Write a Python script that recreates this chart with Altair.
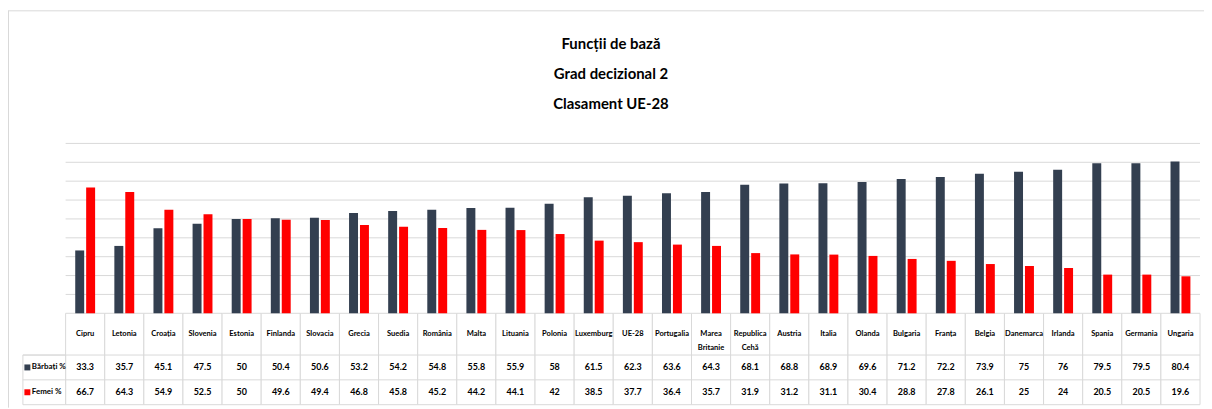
import altair as alt
import pandas as pd

countries = ["Cipru", "Letonia", "Croația", "Slovenia", "Estonia", "Finlanda", "Slovacia",
             "Grecia", "Suedia", "România", "Malta", "Lituania", "Polonia", "Luxemburg",
             "UE-28", "Portugalia", "Marea Britanie", "Republica Cehă", "Austria", "Italia",
             "Olanda", "Bulgaria", "Franța", "Belgia", "Danemarca", "Irlanda", "Spania",
             "Germania", "Ungaria"]
barbati = [33.3, 35.7, 45.1, 47.5, 50, 50.4, 50.6, 53.2, 54.2, 54.8, 55.8, 55.9, 58, 61.5,
           62.3, 63.6, 64.3, 68.1, 68.8, 68.9, 69.6, 71.2, 72.2, 73.9, 75, 76, 79.5, 79.5, 80.4]
femei = [66.7, 64.3, 54.9, 52.5, 50, 49.6, 49.4, 46.8, 45.8, 45.2, 44.2, 44.1, 42, 38.5,
         37.7, 36.4, 35.7, 31.9, 31.2, 31.1, 30.4, 28.8, 27.8, 26.1, 25, 24, 20.5, 20.5, 19.6]
series = ["Bărbați %", "Femei %"]
colors = ["#333F50", "#FF0000"]
gridlines = [10, 20, 30, 40, 50, 60, 70, 80, 90]
title_lines = ["Funcții de bază", "Grad decizional 2", "Clasament UE-28"]

FONT = "Lato, Liberation Sans, sans-serif"
GRID = "#D9D9D9"

rows = []
for c, b, f in zip(countries, barbati, femei):
    lab = c.replace(" ", "\n")
    rows.append({"country": c, "label": lab, "series": series[0], "value": b, "txt": f"{b:g}"})
    rows.append({"country": c, "label": lab, "series": series[1], "value": f, "txt": f"{f:g}"})
df = pd.DataFrame(rows)
cat_df = pd.DataFrame({"country": countries,
                       "label": [c.replace(" ", "\n") for c in countries]})
grid_df = pd.DataFrame({"v": gridlines})
ser_df = pd.DataFrame({"series": series})
title_df = pd.DataFrame({"t": ["\n".join(title_lines)]})
one = pd.DataFrame({"a": [0]})

# layout (view coordinates, view origin = page (8, 8))
W, H = 1204, 401
X0, X1 = 58, 1200
Y_BASE, Y_TOP = 306, 135
ROW1, ROW2, ROW3 = 348, 373, 398
HDR_X = 15

xscale = alt.Scale(domain=countries, range=[X0, X1], paddingInner=0, paddingOuter=0)
yscale = alt.Scale(domain=[0, 90], range=[Y_BASE, Y_TOP], nice=False, zero=True)
cscale = alt.Scale(domain=series, range=colors)


def xenc():
    return alt.X("country:N", sort=countries, scale=xscale, axis=None)


border_top = alt.Chart(one).mark_rule(color=GRID).encode(
    x=alt.value(0), x2=alt.value(W), y=alt.value(1.5))
border_left = alt.Chart(one).mark_rule(color=GRID).encode(
    x=alt.value(0.5), y=alt.value(1.5), y2=alt.value(H))

grid = alt.Chart(grid_df).mark_rule(color=GRID, strokeWidth=1).encode(
    y=alt.Y("v:Q", scale=yscale, axis=None),
    x=alt.value(X0), x2=alt.value(X1))

cells = alt.Chart(cat_df).mark_rect(fill="white", stroke=GRID, strokeWidth=1).encode(
    x=xenc(), y=alt.value(Y_BASE), y2=alt.value(ROW3))

hdr_cell = alt.Chart(one).mark_rect(fill="white", stroke=GRID, strokeWidth=1).encode(
    x=alt.value(HDR_X), x2=alt.value(X0), y=alt.value(ROW1), y2=alt.value(ROW3))

line1 = alt.Chart(one).mark_rule(color=GRID).encode(
    x=alt.value(HDR_X), x2=alt.value(X1), y=alt.value(ROW1))
line2 = alt.Chart(one).mark_rule(color=GRID).encode(
    x=alt.value(HDR_X), x2=alt.value(X1), y=alt.value(ROW2))

bars = alt.Chart(df).mark_bar().encode(
    x=xenc(),
    xOffset=alt.XOffset("series:N", sort=series,
                        scale=alt.Scale(paddingInner=0.18, paddingOuter=0.88)),
    y=alt.Y("value:Q", scale=yscale, axis=None),
    color=alt.Color("series:N", scale=cscale, legend=None))

cat_text = alt.Chart(cat_df).mark_text(
    font=FONT, fontSize=7.6, fontWeight="bold", color="black",
    lineBreak="\n", lineHeight=14, baseline="middle").encode(
    x=xenc(), y=alt.value((Y_BASE + ROW1) / 2), text="label:N")

val1 = alt.Chart(df).transform_filter(alt.datum.series == series[0]).mark_text(
    font=FONT, fontSize=9, fontWeight="bold", color="black", baseline="middle").encode(
    x=xenc(), y=alt.value((ROW1 + ROW2) / 2), text="txt:N")
val2 = alt.Chart(df).transform_filter(alt.datum.series == series[1]).mark_text(
    font=FONT, fontSize=9, fontWeight="bold", color="black", baseline="middle").encode(
    x=xenc(), y=alt.value((ROW2 + ROW3) / 2), text="txt:N")

hdr_layers = []
for s, (ya, yb) in zip(series, [(ROW1, ROW2), (ROW2, ROW3)]):
    d = ser_df[ser_df.series == s]
    sq = alt.Chart(d).mark_square(size=36, opacity=1, filled=True).encode(
        x=alt.value(HDR_X + 4.5), y=alt.value((ya + yb) / 2),
        color=alt.Color("series:N", scale=cscale, legend=None))
    tx = alt.Chart(d).mark_text(font=FONT, fontSize=8, fontWeight="bold", color="black",
                                align="left", baseline="middle").encode(
        x=alt.value(HDR_X + 9), y=alt.value((ya + yb) / 2), text="series:N")
    hdr_layers += [sq, tx]

title = alt.Chart(title_df).mark_text(
    font=FONT, fontSize=15, fontWeight="bold", color="black",
    lineBreak="\n", lineHeight=30, baseline="middle", align="center").encode(
    x=alt.value(607), y=alt.value(35), text="t:N")

chart = alt.layer(border_top, border_left, grid, cells, hdr_cell, line1, line2, bars,
                  cat_text, val1, val2, *hdr_layers, title).properties(
    width=W, height=H, autosize=alt.AutoSizeParams(type="none"), padding=0,
    background="white"
).configure_view(stroke=None)

chart.save("out.html", embed_options={"renderer": "svg", "actions": False})
